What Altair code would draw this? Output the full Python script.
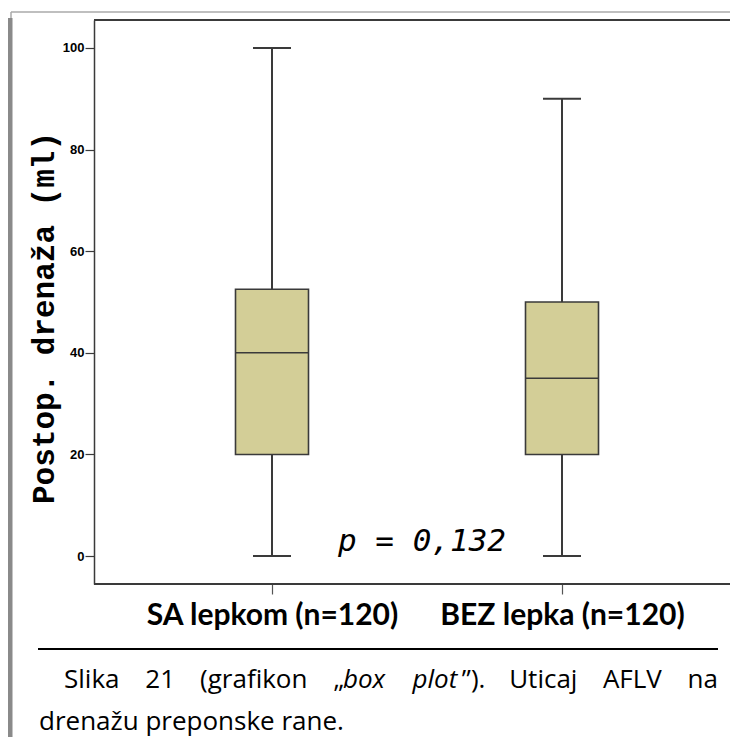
import altair as alt
import pandas as pd

# ---- data ----
groups = ["SA lepkom (n=120)", "BEZ lepka (n=120)"]
mins = [0, 0]
q1s = [20, 20]
medians = [40, 35]
q3s = [52.5, 50]
maxs = [100, 90]

y_ticks = [0, 20, 40, 60, 80, 100]
y_title = "Postop. drenaža (ml)"
p_text = "p = 0,132"

# caption words of line 1 (text, italic?) and line 2
caption_words = [("Slika", False), ("21", False), ("(grafikon", False),
                 ("„box", None), ("plot”).", None), ("Uticaj", False),
                 ("AFLV", False), ("na", False)]
caption_line2 = "drenažu preponske rane."

df = pd.DataFrame({"group": groups, "lo": mins, "q1": q1s, "med": medians,
                   "q3": q3s, "hi": maxs})
one = pd.DataFrame({"k": [0]})

LINE = "#3a3a3a"
BOX = "#D3CE97"

xs = alt.X("group:N", sort=groups,
           scale=alt.Scale(type="point", range=[178, 468], padding=0),
           axis=alt.Axis(title=None, labelAngle=0, labelFont="Lato", labelFontWeight="bold",
                         labelFontSize=30, labelColor="black", labelPadding=6,
                         labelBaseline="top", labelLimit=500,
                         tickSize=10, tickColor="#555", tickWidth=1.2,
                         domain=False, grid=False))
ys = alt.Scale(domain=[-5.5, 105.5], nice=False, zero=False)
yaxis = alt.Axis(title=None, values=y_ticks, labelFont="Liberation Sans", labelFontWeight="bold",
                 labelFontSize=13, labelColor="black", labelPadding=1,
                 tickSize=9, tickColor=LINE, tickWidth=1.2,
                 domainColor=LINE, domainWidth=1.5, grid=False)

base = alt.Chart(df)

whisk = base.mark_rule(color=LINE, strokeWidth=2).encode(
    x=xs, y=alt.Y("lo:Q", scale=ys, axis=yaxis), y2="hi:Q")
box = base.mark_bar(size=73, fill=BOX, stroke=LINE, strokeWidth=1.6).encode(
    x=xs, y=alt.Y("q1:Q", scale=ys), y2="q3:Q")
med = base.mark_tick(size=73, thickness=1.5, color=LINE, opacity=1).encode(
    x=xs, y=alt.Y("med:Q", scale=ys))
cap_lo = base.mark_tick(size=38, thickness=2, color=LINE, opacity=1).encode(
    x=xs, y=alt.Y("lo:Q", scale=ys))
cap_hi = base.mark_tick(size=38, thickness=2, color=LINE, opacity=1).encode(
    x=xs, y=alt.Y("hi:Q", scale=ys))

deco = alt.Chart(one)

def rule(x1, x2, y1, y2, color, w):
    return deco.mark_rule(color=color, strokeWidth=w).encode(
        x=alt.value(x1), x2=alt.value(x2), y=alt.value(y1), y2=alt.value(y2))

def txt(s, x, y, size, font="Open Sans", style="normal", weight="normal", align="left",
        angle=0, baseline="alphabetic", color="black"):
    return deco.mark_text(text=s, font=font, fontSize=size, fontStyle=style,
                          fontWeight=weight, align=align, angle=angle,
                          baseline=baseline, color=color).encode(
        x=alt.value(x), y=alt.value(y))

top_border = rule(0, 636, 0, 0, LINE, 2)
bottom_border = rule(0, 636, 564, 564, LINE, 2)
page_top = rule(-83, 636, -8, -8, "#aaaaaa", 1.5)
page_left = rule(-83, -83, -8, -2, "#aaaaaa", 1.5)
grey_bar = rule(-84, -84, -2, 717, "#8a8a8a", 5)
cap_line = rule(-56, 624, 629, 629, "black", 2)

ytitle = txt(y_title, -49, 298, 31, font="Liberation Mono", weight="bold",
             align="center", angle=270, baseline="middle")
ptxt = txt(p_text, 328, 531, 31, font="DejaVu Sans Mono", style="italic", align="center")

# approximate Open Sans advance widths (em) for justification of caption line 1
EM = {"S": .55, "l": .26, "i": .26, "k": .53, "a": .56, "2": .57, "1": .57, "(": .3,
      "g": .55, "r": .41, "f": .34, "o": .6, "n": .62, "„": .36, "b": .61, "x": .5,
      "p": .61, "t": .35, "”": .36, ")": .3, ".": .27, "U": .73, "c": .48, "j": .26,
      "A": .63, "F": .53, "L": .52, "V": .6}
FS = 26
left_px, right_px = -30, 624
widths = [sum(EM.get(c, .55) for c in w) * FS for w, _ in caption_words]
gap = (right_px - left_px - sum(widths)) / (len(caption_words) - 1)

L1 = 668
caption = []
xpos = left_px
for (w, ital), wd in zip(caption_words, widths):
    if ital is None:
        if w.startswith("„"):
            caption.append(txt("„", xpos, L1, FS))
            caption.append(txt(w[1:], xpos + EM["„"] * FS, L1, FS, style="italic"))
        else:
            core = w[:4]
            caption.append(txt(core, xpos, L1, FS, style="italic"))
            caption.append(txt(w[4:], xpos + sum(EM[c] for c in core) * FS + 2, L1, FS))
    elif w == caption_words[-1][0]:
        caption.append(txt(w, right_px, L1, FS, align="right"))
    else:
        caption.append(txt(w, xpos, L1, FS))
    xpos += wd + gap
caption.append(txt(caption_line2, -55, 710, FS))

chart = alt.layer(whisk, box, med, cap_lo, cap_hi, top_border, bottom_border, page_top,
                  page_left, grey_bar, cap_line, ytitle, ptxt, *caption).properties(
    width=636, height=564,
    autosize=alt.AutoSizeParams(type="none"),
    padding={"left": 86, "top": 12, "right": 0, "bottom": 153},
).configure_view(fill="#F0F0F0", stroke=None).configure(background="white")

chart.save("out.html", embed_options={"renderer": "svg", "actions": False})
